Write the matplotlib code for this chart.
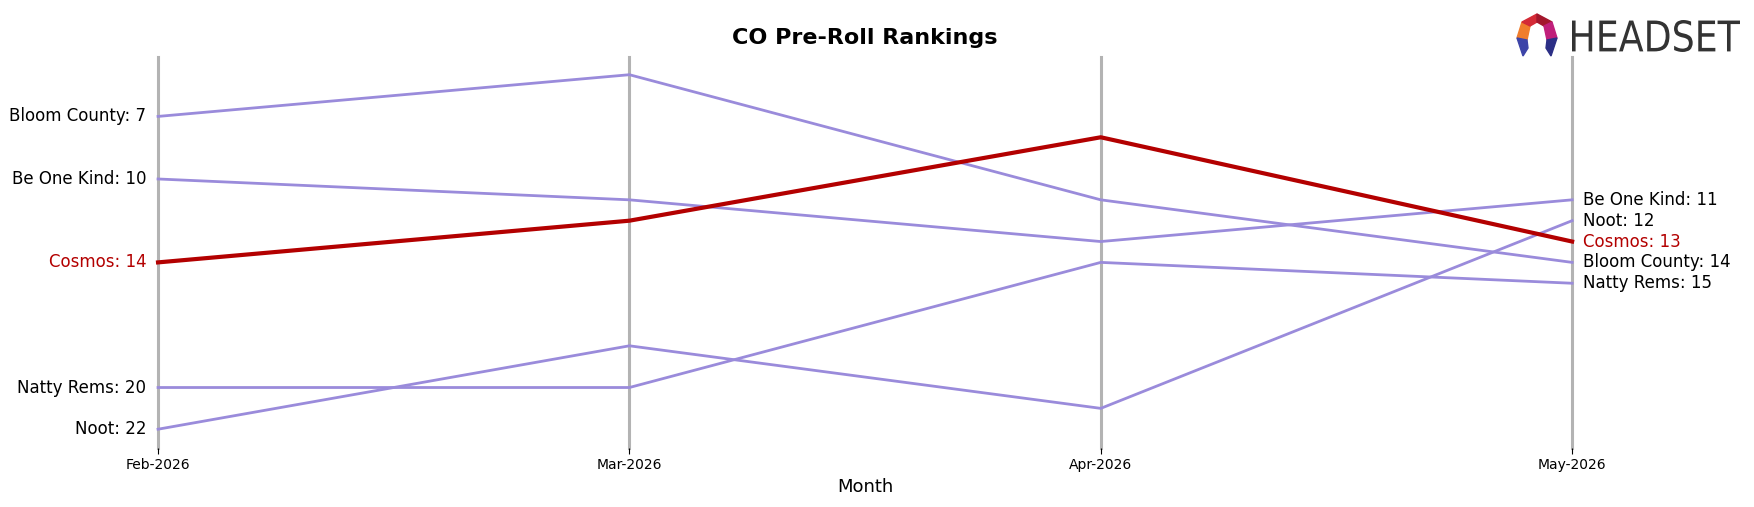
import matplotlib
matplotlib.use('Agg')
from matplotlib import pyplot as plt
from matplotlib.patches import Polygon, PathPatch
from matplotlib.textpath import TextPath
from matplotlib.font_manager import FontProperties
from matplotlib.transforms import Affine2D, IdentityTransform

months = ['Feb-2026', 'Mar-2026', 'Apr-2026', 'May-2026']
brands = ['Bloom County', 'Be One Kind', 'Cosmos', 'Natty Rems', 'Noot']
bloom_county = [7, 5, 11, 14]
be_one_kind = [10, 11, 13, 11]
cosmos = [14, 12, 8, 13]
natty_rems = [20, 20, 14, 15]
noot = [22, 18, 21, 12]
ranks = [bloom_county, be_one_kind, cosmos, natty_rems, noot]
highlight = 'Cosmos'

purple = '#9a8bdb'
red = '#b30000'

fig = plt.figure(figsize=(17.54, 5.07), dpi=100)
ax = fig.add_axes([0.0901, 0.1164, 0.8062, 0.7712])

x = list(range(len(months)))
for xi in x:
    ax.axvline(xi, color='#b3b3b3', lw=2.2, zorder=1, clip_on=False)

for name, r in zip(brands, ranks):
    if name == highlight:
        ax.plot(x, r, color=red, lw=3, zorder=3, clip_on=False)
    else:
        ax.plot(x, r, color=purple, lw=2, zorder=2, clip_on=False)
    c = red if name == highlight else 'black'
    ax.annotate(f'{name}: {r[0]}', (x[0], r[0]), xytext=(-8.5, 0), textcoords='offset points',
                ha='right', va='center', fontsize=12, color=c)
    ax.annotate(f'{name}: {r[-1]}', (x[-1], r[-1]), xytext=(8, 0), textcoords='offset points',
                ha='left', va='center', fontsize=12, color=c)

ax.set_xlim(0, 3)
ax.set_ylim(22.9, 4.15)
ax.set_xticks(x)
ax.set_xticklabels(months, fontsize=10)
ax.set_yticks([])
ax.tick_params(axis='x', length=4)
for s in ax.spines.values():
    s.set_visible(False)
ax.set_xlabel('Month', fontsize=13)
ax.set_title('CO Pre-Roll Rankings', fontsize=16, fontweight='bold', pad=9)

# logo icon
lax = fig.add_axes([1513 / 1754, 1 - 60 / 507, 48 / 1754, 48 / 507])
lax.set_xlim(0, 48)
lax.set_ylim(48, 0)
lax.axis('off')
pieces = [
    ([(4, 26), (9, 10), (17, 14), (14, 28)], '#f07d2c'),
    ([(9, 10), (24, 2), (24, 10), (17, 14)], '#d42a36'),
    ([(24, 2), (39, 10), (31, 14), (24, 10)], '#a3162c'),
    ([(39, 10), (44, 26), (34, 28), (31, 14)], '#c01f7a'),
    ([(4, 26), (14, 28), (15, 36), (10, 44)], '#3d44a8'),
    ([(44, 26), (34, 28), (33, 36), (38, 44)], '#2c2f86'),
]
for pts, col in pieces:
    lax.add_patch(Polygon(pts, closed=True, color=col))

# logo text, squeezed to fit
tp = TextPath((0, 0), 'HEADSET', size=1, prop=FontProperties(family='DejaVu Sans'))
ext = tp.get_extents()
sx = 168 / ext.width
sy = 32 / ext.height
tr = Affine2D().translate(-ext.x0, -ext.y0).scale(sx, sy).translate(1572, 507 - 52)
fig.add_artist(PathPatch(tp, transform=tr + IdentityTransform(), color='#333333', lw=0))

fig.savefig('out.png', dpi=100)
